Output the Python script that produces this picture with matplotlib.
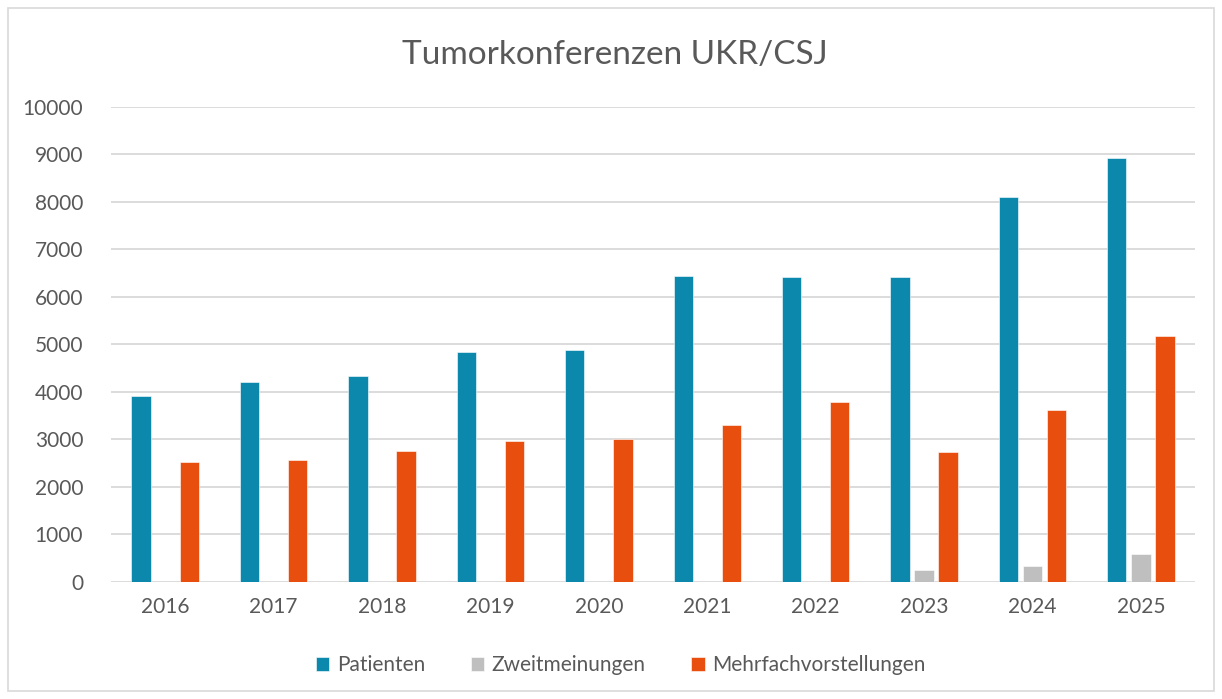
import matplotlib
matplotlib.use("Agg")
import matplotlib.pyplot as plt
import numpy as np
from matplotlib.patches import Rectangle

years = ["2016", "2017", "2018", "2019", "2020", "2021", "2022", "2023", "2024", "2025"]
patienten = [3920, 4220, 4330, 4850, 4890, 6450, 6410, 6410, 8110, 8920]
zweitmeinungen = [0, 0, 0, 0, 0, 0, 0, 260, 340, 580]
mehrfach = [2520, 2560, 2750, 2970, 3010, 3300, 3790, 2730, 3620, 5170]
series_names = ["Patienten", "Zweitmeinungen", "Mehrfachvorstellungen"]
colors = ["#0C88AD", "#BFBFBF", "#E84E0E"]
title = "Tumorkonferenzen UKR/CSJ"

plt.rcParams['font.family'] = ['Lato', 'DejaVu Sans']
text_color = "#595959"

fig = plt.figure(figsize=(12.22, 6.99), dpi=100)
ax = fig.add_axes([0.0908, 0.1674, 0.8872, 0.6796])

x = np.arange(len(years))
w = 0.178
step = 0.222
for i, (vals, name, c) in enumerate(zip([patienten, zweitmeinungen, mehrfach], series_names, colors)):
    ax.bar(x + (i - 1) * step, vals, width=w, color=c, label=name, zorder=3,
           edgecolor="white", linewidth=0.4)

ax.set_xlim(-0.5, len(years) - 0.5)
ax.set_ylim(0, 10000)
ax.set_yticks(np.arange(0, 10001, 1000))
ax.set_xticks(x)
ax.set_xticklabels(years)
ax.tick_params(axis='both', length=0, labelsize=15, colors=text_color)
ax.tick_params(axis='y', pad=20)
ax.tick_params(axis='x', pad=11)
ax.grid(axis='y', color="#D9D9D9", linewidth=1.3, zorder=0)
for s in ax.spines.values():
    s.set_visible(False)

fig.text(0.503, 0.922, title, ha='center', va='center', fontsize=24,
         color=text_color)

leg = fig.legend(loc='center', bbox_to_anchor=(0.508, 0.048), ncol=3, frameon=False,
                 fontsize=15, handlelength=0.65, handleheight=0.65, handletextpad=0.35,
                 columnspacing=2.2, labelcolor=text_color)

fig.patches.append(Rectangle((8 / 1222, 1 - 691 / 699), 1206 / 1222, 683 / 699,
                             transform=fig.transFigure, fill=False,
                             edgecolor="#D9D9D9", linewidth=1.2))

fig.savefig("out.png", dpi=100)
